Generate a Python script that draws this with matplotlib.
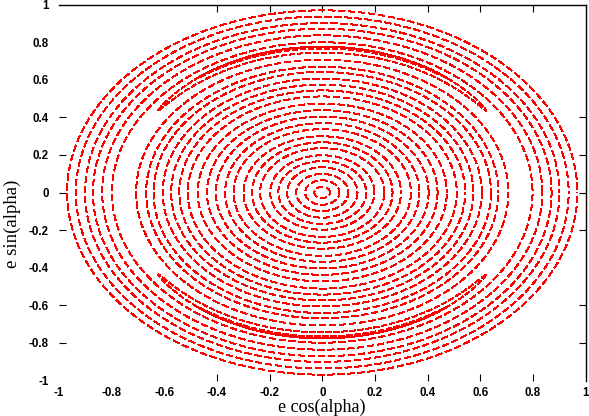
import numpy as np
import matplotlib
matplotlib.use("Agg")
import matplotlib.pyplot as plt

plt.rcParams['lines.scale_dashes'] = False

# radii of the closed orbits around the origin
inner_r = [0.030, 0.065, 0.099, 0.134, 0.167, 0.198, 0.236, 0.267, 0.299,
           0.337, 0.369, 0.404, 0.438, 0.473, 0.511, 0.543, 0.574, 0.606,
           0.641, 0.669, 0.707]
outer_r = [0.799, 0.836, 0.871, 0.901, 0.936, 0.969]

# banana orbits round the islands at alpha = +90 and -90 deg
# (mid radius, half width, half opening in degrees)
island_rc = [0.760, 0.771]
island_w = [0.016, 0.005]
island_phi = [55.0, 38.0]
island_at = [90.0, -90.0]

ticks = [-1, -0.8, -0.6, -0.4, -0.2, 0, 0.2, 0.4, 0.6, 0.8, 1]
tick_labels = ['-1', '-0.8', '-0.6', '-0.4', '-0.2', '0', '0.2', '0.4', '0.6', '0.8', '1']
# tick marks that show in the picture
xmarks = [-0.4, -0.2, 0, 0.2, 0.4, 0.6, 0.8]
ymarks = [-0.8, -0.6, -0.2, 0, 0.2, 0.4]

fig = plt.figure(figsize=(5.89, 4.16), dpi=100)
ax = fig.add_axes([59/589, 35.5/416, 526.5/589, 376/416])

s = np.linspace(0, 2*np.pi, 900)
for i, r in enumerate(inner_r + outer_r):
    ax.plot(r*np.cos(s), r*np.sin(s), color='#ff0000', lw=0.9,
            linestyle=(1.3*i, (5.0, 2.2)), antialiased=False)

for c in island_at:
    for j in range(len(island_rc)):
        th = np.radians(c + island_phi[j]*np.cos(s))
        rr = island_rc[j] + island_w[j]*np.sin(s)
        ax.plot(rr*np.cos(th), rr*np.sin(th), color='#ff0000', lw=0.9,
                linestyle=(0.7*j, (4.0, 1.5)), antialiased=False)

ax.set_xlim(-1, 1)
ax.set_ylim(-1, 1)
ax.set_xticks(ticks)
ax.set_xticklabels(tick_labels)
ax.set_yticks(ticks)
ax.set_yticklabels(tick_labels)
ax.tick_params(direction='in', length=5, width=0.8, labelsize=8.3,
               top=True, right=True)
ax.tick_params(axis='x', pad=4.5)
ax.tick_params(axis='y', pad=7.5)
for t, v in zip(ax.xaxis.get_major_ticks(), ticks):
    if v not in xmarks:
        t.tick1line.set_visible(False)
        t.tick2line.set_visible(False)
for t, v in zip(ax.yaxis.get_major_ticks(), ticks):
    if v not in ymarks:
        t.tick1line.set_visible(False)
        t.tick2line.set_visible(False)
for lab in ax.get_xticklabels() + ax.get_yticklabels():
    lab.set_fontfamily('Liberation Sans')
    lab.set_fontweight('bold')

ax.spines['left'].set_visible(False)
ax.spines['bottom'].set_visible(False)
ax.spines['top'].set_linewidth(1.0)
ax.spines['right'].set_linewidth(1.0)

fig.text(0.546, 0.009, 'e cos(alpha)', family='Liberation Serif',
         fontsize=13, ha='center', va='baseline')
fig.text(0.0212, 192/416, 'e sin(alpha)', family='Liberation Serif',
         fontsize=13.5, ha='center', va='center', rotation=90)

fig.savefig('out.png', dpi=100)
